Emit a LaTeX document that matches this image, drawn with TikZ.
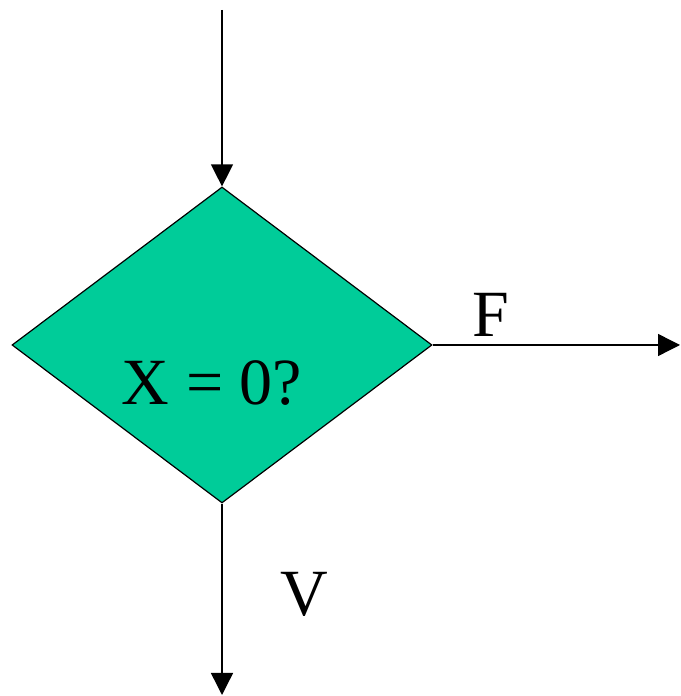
\documentclass[tikz,border=0pt]{standalone}
\usepackage{fontspec}
\setmainfont{Liberation Serif}
\usetikzlibrary{shapes.geometric, arrows.meta}
\definecolor{condgreen}{RGB}{0,204,153}

\begin{document}
\begin{tikzpicture}[x=1pt, y=1pt,
    flow/.style={-{Triangle[width=22pt, length=22pt]}, line width=1.4pt},
    lbl/.style={font=\fontsize{66}{72}\selectfont, inner sep=0pt}]
  \useasboundingbox (0,0) rectangle (680,696);
  \node[diamond, draw, fill=condgreen, line width=1.2pt, inner sep=0pt,
        minimum width=420pt, minimum height=316pt] (test) at (222,351) {};
  \node[lbl] (cond) at (212,313) {X = 0?};
  \coordinate (in) at (222,686);
  \coordinate (false) at (680,351);
  \coordinate (true) at (222,1);
  \draw[flow] (in) -- (test.north);
  \draw[flow] (test.east) -- (false);
  \draw[flow] (test.south) -- (true);
  \node[lbl] (f) at (491,381) {F};
  \node[lbl] (v) at (304,102) {V};
\end{tikzpicture}
\end{document}
